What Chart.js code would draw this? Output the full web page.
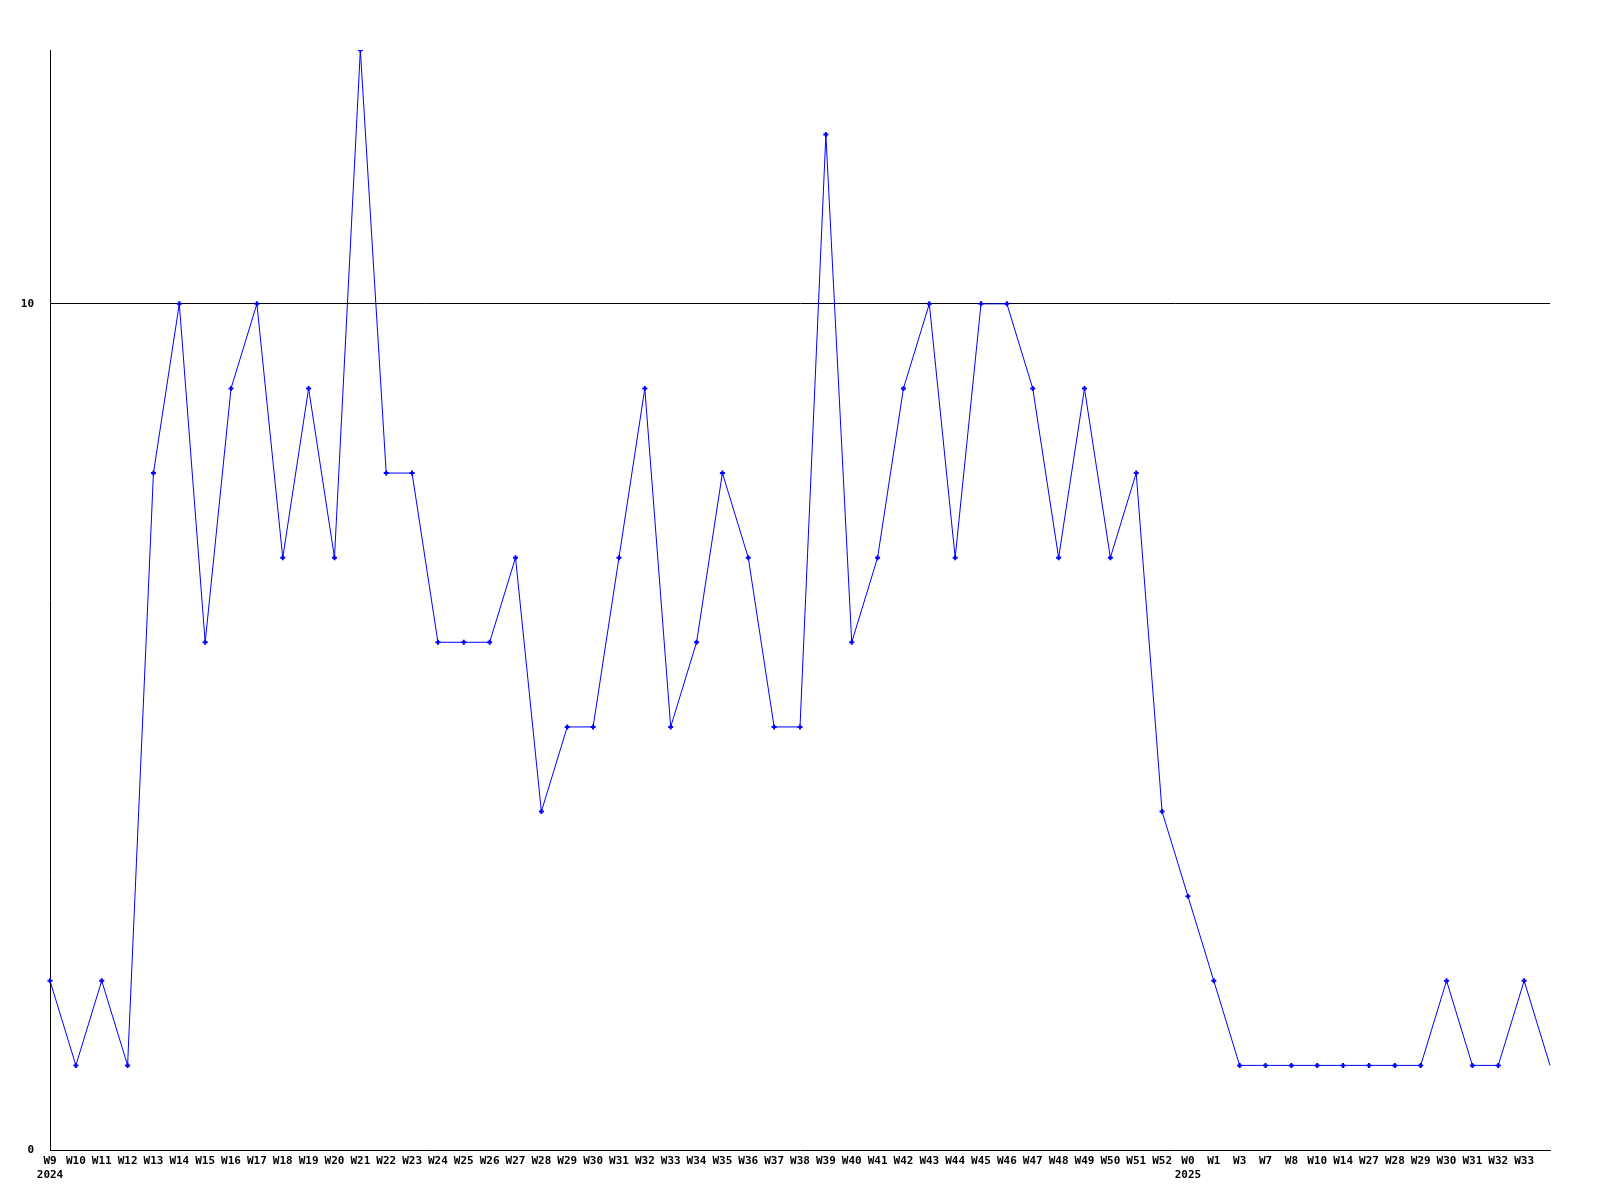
<!DOCTYPE html>
<html>
<head>
<meta charset="utf-8">
<script src="https://cdn.jsdelivr.net/npm/chart.js@4"></script>
<style>
  html, body { margin: 0; padding: 0; background: #fff; }
  #wrap { width: 1600px; height: 1200px; }
</style>
</head>
<body>
<div id="wrap"><canvas id="c" width="1600" height="1200"></canvas></div>
<script>
'use strict';

// Week labels (year shown under the first week of each year); the last
// point sits on the right edge without a label.
const weeks2024 = ['W9', 'W10', 'W11', 'W12', 'W13', 'W14', 'W15', 'W16', 'W17', 'W18', 'W19',
  'W20', 'W21', 'W22', 'W23', 'W24', 'W25', 'W26', 'W27', 'W28', 'W29', 'W30', 'W31', 'W32',
  'W33', 'W34', 'W35', 'W36', 'W37', 'W38', 'W39', 'W40', 'W41', 'W42', 'W43', 'W44', 'W45',
  'W46', 'W47', 'W48', 'W49', 'W50', 'W51', 'W52'];
const weeks2025 = ['W0', 'W1', 'W3', 'W7', 'W8', 'W10', 'W14', 'W27', 'W28', 'W29', 'W30',
  'W31', 'W32', 'W33', ''];

const counts = [2, 1, 2, 1, 8, 10, 6, 9, 10, 7, 9, 7, 13, 8, 8, 6, 6, 6, 7, 4, 5, 5, 7, 9,
  5, 6, 8, 7, 5, 5, 12, 6, 7, 9, 10, 7, 10, 10, 9, 7, 9, 7, 8,
  4, 3, 2, 1, 1, 1, 1, 1, 1, 1, 1, 2, 1, 1, 2, 1];

const yTicks = [0, 10];

function buildLabels() {
  const out = [];
  weeks2024.forEach(function (w, i) { out.push(i === 0 ? [w, '2024'] : w); });
  weeks2025.forEach(function (w, i) { out.push(i === 0 ? [w, '2025'] : w); });
  return out;
}

const FONT = { family: '"DejaVu Sans Mono", monospace', size: 11, weight: 'bold' };
const lastIdx = counts.length - 1;

new Chart(document.getElementById('c').getContext('2d'), {
  type: 'line',
  data: {
    labels: buildLabels(),
    datasets: [{
      data: counts,
      borderColor: '#0000ff',
      backgroundColor: '#0000ff',
      borderWidth: 1,
      fill: false,
      tension: 0,
      // small plus markers, none on the trailing edge point
      pointStyle: 'cross',
      pointRadius: function (ctx) { return ctx.dataIndex === lastIdx ? 0 : 2.5; },
      pointBorderColor: '#0000ff',
      pointBorderWidth: 2,
    }],
  },
  options: {
    responsive: false,
    animation: false,
    devicePixelRatio: 1,
    layout: { padding: { top: 50, right: 50, left: 0, bottom: 0 } },
    plugins: { legend: { display: false }, tooltip: { enabled: false } },
    scales: {
      x: {
        offset: false,
        grid: { display: false, drawTicks: false },
        border: { display: true, color: '#000', width: 1 },
        ticks: {
          color: '#000', font: FONT, padding: 5, maxRotation: 0, autoSkip: false,
        },
        afterFit: function (s) { s.height = 50; },
      },
      y: {
        min: 0,
        max: 13,
        afterBuildTicks: function (s) { s.ticks = yTicks.map(function (v) { return { value: v }; }); },
        grid: {
          drawTicks: false,
          color: function (ctx) { return ctx.tick && ctx.tick.value === 10 ? '#000' : 'rgba(0,0,0,0)'; },
        },
        border: { display: true, color: '#000', width: 1 },
        ticks: { color: '#000', font: FONT, padding: 16 },
        afterFit: function (s) { s.width = 50; },
      },
    },
  },
});
</script>
</body>
</html>
